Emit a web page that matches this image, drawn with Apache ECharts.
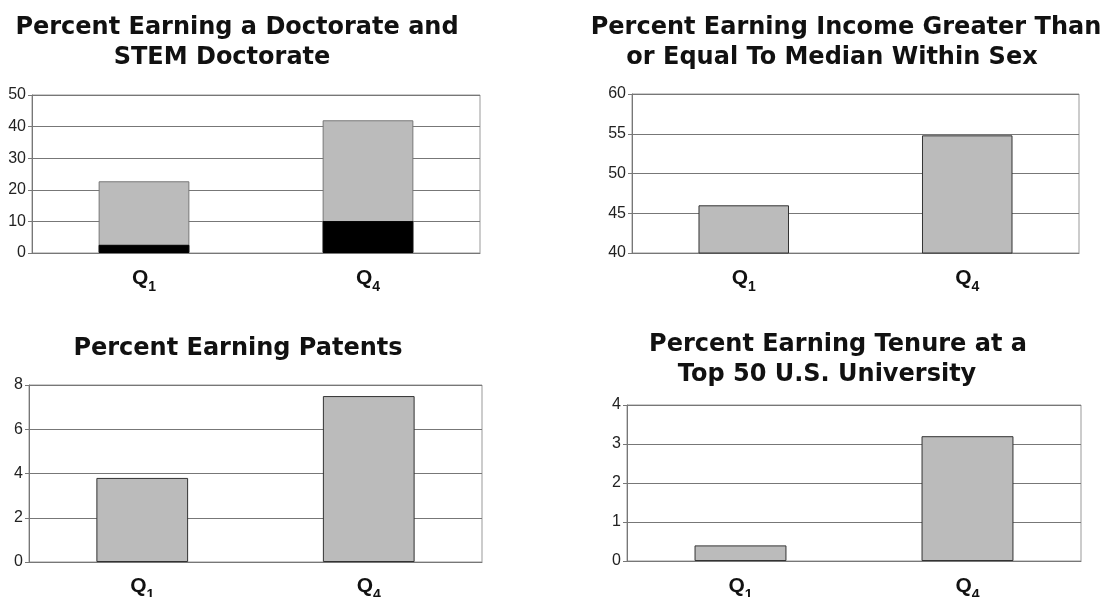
<!DOCTYPE html>
<html>
<head>
<meta charset="utf-8">
<script src="https://cdn.jsdelivr.net/npm/echarts@6/dist/echarts.min.js"></script>
<style>
html,body{margin:0;padding:0;background:#fff;}
#chart{width:1117px;height:597px;}
</style>
</head>
<body>
<div id="chart"></div>
<script>
// ---- data ----
const categories = ['Q1', 'Q4'];
const doctorate = [22.7, 42.0];
const stemDoctorate = [2.6, 10.1];
const incomeAboveMedian = [46.0, 54.8];
const patents = [3.8, 7.5];
const tenureTop50 = [0.4, 3.2];

const title1 = ['Percent Earning a Doctorate and', 'STEM Doctorate'];
const title2 = ['Percent Earning Income Greater Than', 'or Equal To Median Within Sex'];
const title3 = ['Percent Earning Patents'];
const title4 = ['Percent Earning Tenure at a', 'Top 50 U.S. University'];

const yRange1 = [0, 50, 10];
const yRange2 = [40, 60, 5];
const yRange3 = [0, 8, 2];
const yRange4 = [0, 4, 1];

// ---- layout / style ----
const grids = [
  {left: 32, top: 95, width: 448, height: 158},
  {left: 632, top: 94, width: 447, height: 159},
  {left: 29, top: 385, width: 453, height: 177},
  {left: 627, top: 405, width: 454, height: 156}
];
const labelMargins = [15, 15, 14, 15];
const titleLayout = [
  {lines: title1, centers: [237, 222], tops: [16, 46]},
  {lines: title2, centers: [846, 832], tops: [16, 46]},
  {lines: title3, centers: [238], tops: [337]},
  {lines: title4, centers: [838, 827], tops: [333, 363]}
];
const yRanges = [yRange1, yRange2, yRange3, yRange4];

const titleFont = 'DejaVu Sans';
const bodyFont = 'Liberation Sans';

const titles = [];
titleLayout.forEach(t => {
  t.lines.forEach((line, i) => {
    titles.push({
      text: line,
      left: t.centers[i],
      top: t.tops[i],
      textAlign: 'center',
      padding: 0,
      textStyle: {fontFamily: titleFont, fontWeight: 'bold', fontSize: 24, color: '#111'}
    });
  });
});

const xAxes = grids.map((g, i) => ({
  type: 'category',
  gridIndex: i,
  data: categories,
  axisTick: {show: false},
  axisLine: {lineStyle: {color: '#777', width: 1}},
  axisLabel: {
    margin: labelMargins[i],
    formatter: v => '{q|' + v[0] + '}{s|' + v.slice(1) + '}',
    rich: {
      q: {fontFamily: bodyFont, fontWeight: 'bold', fontSize: 21, lineHeight: 21, verticalAlign: 'top', color: '#111'},
      s: {fontFamily: bodyFont, fontWeight: 'bold', fontSize: 14, lineHeight: 14, verticalAlign: 'top', padding: [12, 0, 0, 0], color: '#111'}
    }
  }
}));

const yAxes = yRanges.map((r, i) => ({
  type: 'value',
  gridIndex: i,
  min: r[0], max: r[1], interval: r[2],
  axisLine: {show: true, lineStyle: {color: '#777', width: 1}},
  axisTick: {show: true, length: 4, lineStyle: {color: '#777'}},
  axisLabel: {margin: 6, fontFamily: bodyFont, fontSize: 16, color: '#222'},
  splitLine: {show: true, lineStyle: {color: '#777', width: 1}}
}));

const grayBar = {color: '#bbbbbb', borderColor: '#333', borderWidth: 1};

const option = {
  animation: false,
  backgroundColor: '#fff',
  title: titles,
  grid: grids.map(g => Object.assign({show: true, borderColor: '#999', borderWidth: 1, backgroundColor: '#fff',
    containLabel: false, outerBoundsMode: 'none'}, g)),
  xAxis: xAxes,
  yAxis: yAxes,
  series: [
    {type: 'bar', xAxisIndex: 0, yAxisIndex: 0, data: doctorate, barWidth: '40.5%', barGap: '-100%',
     itemStyle: {color: '#bbbbbb', borderColor: '#777', borderWidth: 1}},
    {type: 'bar', xAxisIndex: 0, yAxisIndex: 0, data: stemDoctorate, barWidth: '40.5%', barGap: '-100%', z: 3,
     itemStyle: {color: '#000', borderColor: '#000', borderWidth: 1}},
    {type: 'bar', xAxisIndex: 1, yAxisIndex: 1, data: incomeAboveMedian, barWidth: '40.5%', itemStyle: grayBar},
    {type: 'bar', xAxisIndex: 2, yAxisIndex: 2, data: patents, barWidth: '40.5%', itemStyle: grayBar},
    {type: 'bar', xAxisIndex: 3, yAxisIndex: 3, data: tenureTop50, barWidth: '40.5%', itemStyle: grayBar}
  ]
};

const chart = echarts.init(document.getElementById('chart'), null, {renderer: 'canvas'});
chart.setOption(option);
</script>
</body>
</html>
